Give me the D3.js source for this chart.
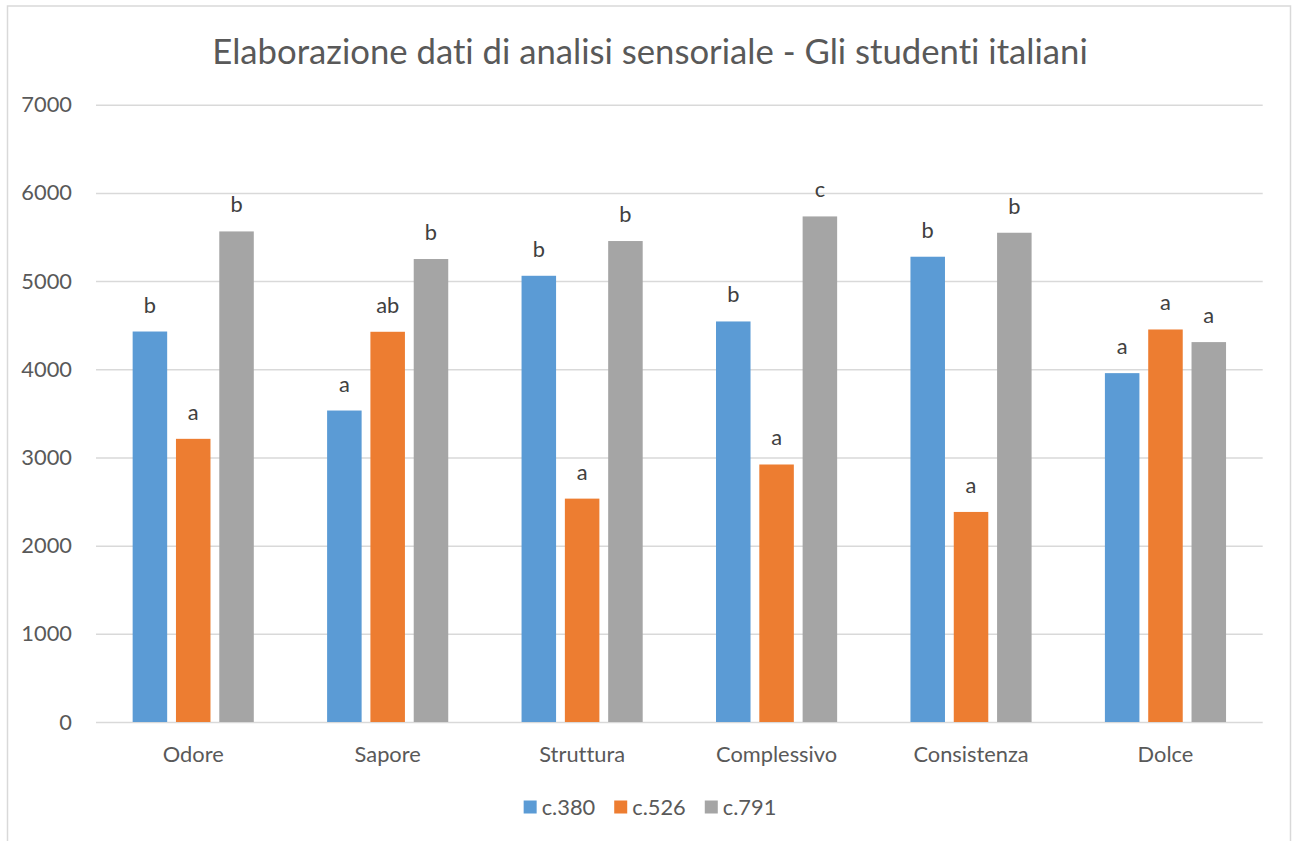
<!DOCTYPE html>
<meta charset="utf-8">
<style>
  body { margin: 0; background: #fff; }
  svg { display: block; font-family: Lato, "Open Sans", sans-serif; font-variant-ligatures: none; }
</style>
<body>
<div id="chart"></div>
<script src="https://d3js.org/d3.v7.min.js"></script>
<script>
const categories = ["Odore", "Sapore", "Struttura", "Complessivo", "Consistenza", "Dolce"];
const seriesNames = ["c.380", "c.526", "c.791"];
const c380 = [4428, 3532, 5060, 4542, 5276, 3956];
const c526 = [3211, 4425, 2533, 2920, 2382, 4451];
const c791 = [5563, 5250, 5454, 5733, 5548, 4308];
const letters380 = ["b", "a", "b", "b", "b", "a"];
const letters526 = ["a", "ab", "a", "a", "a", "a"];
const letters791 = ["b", "b", "b", "c", "b", "a"];
const yTicks = [0, 1000, 2000, 3000, 4000, 5000, 6000, 7000];
const colors = ["#5B9BD5", "#ED7D31", "#A5A5A5"];
const title = "Elaborazione dati di analisi sensoriale - Gli studenti italiani";

const width = 1293, height = 841;
const plotLeft = 96, plotRight = 1262.7, plotTop = 104.7, plotBottom = 722;

const svg = d3.select("#chart").append("svg")
    .attr("width", width)
    .attr("height", height);

// chart frame
svg.append("rect")
    .attr("x", 7.5).attr("y", 6)
    .attr("width", 1283).attr("height", 850)
    .attr("fill", "#fff")
    .attr("stroke", "#D9D9D9")
    .attr("stroke-width", 1.5);

// font fitting: sample widths
function fitSize(text, targetW, base) {
    const t = svg.append("text").attr("font-size", base).text(text);
    const w = t.node().getComputedTextLength();
    t.remove();
    return base * targetW / w;
}
const labelSize = fitSize("Odore", 61, 24);
const titleSize = fitSize(title, 876, 36);

const rows = categories.map((c, i) => ({
    cat: c,
    vals: [c380[i], c526[i], c791[i]],
    letters: [letters380[i], letters526[i], letters791[i]]
}));

const x0 = d3.scaleBand()
    .domain(categories)
    .range([plotLeft, plotRight])
    .paddingInner(0.377)
    .paddingOuter(0.377 / 2);

const x1 = d3.scaleBand()
    .domain(seriesNames)
    .range([0, x0.bandwidth()])
    .paddingInner(0.203);

const y = d3.scaleLinear()
    .domain([0, 7000])
    .range([plotBottom, plotTop]);

// y axis with gridlines
const yAxis = svg.append("g")
    .attr("transform", `translate(${plotLeft},0)`)
    .call(d3.axisLeft(y).tickValues(yTicks).tickSize(-(plotRight - plotLeft)).tickPadding(24).tickFormat(d3.format("d")));
yAxis.select(".domain").remove();
yAxis.selectAll(".tick line").attr("stroke", "#D9D9D9").attr("stroke-width", 1.5);
yAxis.selectAll(".tick text")
    .attr("fill", "#595959")
    .attr("font-size", labelSize)
    .attr("font-family", "Lato, sans-serif");

// x axis labels
const xAxis = svg.append("g")
    .attr("transform", `translate(0,${plotBottom})`)
    .call(d3.axisBottom(x0).tickSize(0).tickPadding(0));
xAxis.select(".domain").remove();
xAxis.selectAll(".tick text")
    .attr("dy", null)
    .attr("y", 40)
    .attr("fill", "#595959")
    .attr("font-size", labelSize)
    .attr("font-family", "Lato, sans-serif");

// bars
const groups = svg.append("g").selectAll("g")
    .data(rows)
    .join("g")
    .attr("transform", d => `translate(${x0(d.cat)},0)`);

groups.selectAll("rect")
    .data(d => d.vals.map((v, i) => ({ s: seriesNames[i], v, i })))
    .join("rect")
    .attr("x", d => x1(d.s))
    .attr("y", d => y(d.v))
    .attr("width", x1.bandwidth())
    .attr("height", d => y(0) - y(d.v))
    .attr("fill", d => colors[d.i]);

groups.selectAll("text")
    .data(d => d.vals.map((v, i) => ({ s: seriesNames[i], v, l: d.letters[i] })))
    .join("text")
    .attr("x", d => x1(d.s) + x1.bandwidth() / 2)
    .attr("y", d => y(d.v) - 19)
    .attr("text-anchor", "middle")
    .attr("fill", "#404040")
    .attr("font-size", labelSize)
    .text(d => d.l);

// title
svg.append("text")
    .attr("x", 650)
    .attr("y", 64)
    .attr("text-anchor", "middle")
    .attr("fill", "#595959")
    .attr("font-size", titleSize)
    .text(title);

// legend
const legend = svg.append("g");
let lx = 0;
seriesNames.forEach((name, i) => {
    const item = legend.append("g").attr("transform", `translate(${lx},0)`);
    item.append("rect")
        .attr("x", 0).attr("y", -6.5)
        .attr("width", 13).attr("height", 13)
        .attr("fill", colors[i]);
    const t = item.append("text")
        .attr("x", 18)
        .attr("y", 0)
        .attr("dy", "0.35em")
        .attr("fill", "#595959")
        .attr("font-size", labelSize)
        .text(name);
    lx += 18 + t.node().getComputedTextLength() + 19;
});
const legendW = lx - 19;
legend.attr("transform", `translate(${650 - legendW / 2},807)`);
</script>
</body>
